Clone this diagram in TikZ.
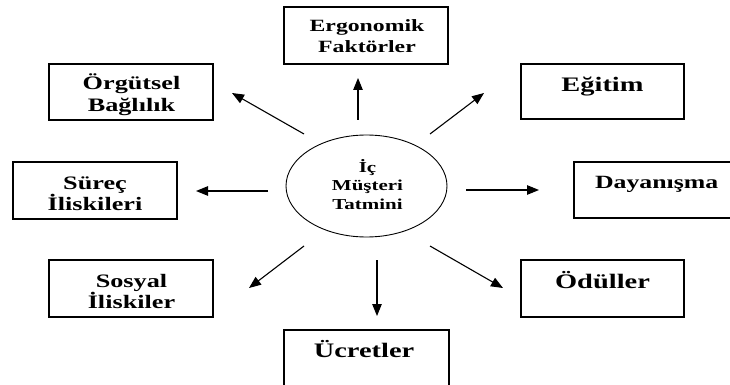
\documentclass[tikz,border=0pt]{standalone}
\usepackage{fontspec}
\newfontfamily\labfont{Liberation Serif}[FakeStretch=1.38]
\usetikzlibrary{arrows.meta,shapes.geometric}
\begin{document}
\begin{tikzpicture}[x=1pt,y=-1pt,
  box/.style={draw=black,line width=1.5pt,rectangle,inner sep=0pt,minimum width=164pt,minimum height=57pt},
  lab/.style={anchor=base,inner sep=0pt,text=black},
  labA/.style={lab,font=\labfont\bfseries\fontsize{19}{21}\selectfont},
  labE/.style={lab,font=\labfont\bfseries\fontsize{17.2}{21}\selectfont},
  labB/.style={lab,font=\labfont\bfseries\fontsize{20.6}{22}\selectfont},
  labD/.style={lab,font=\labfont\bfseries\fontsize{18.7}{21}\selectfont},
  labC/.style={lab,font=\labfont\bfseries\fontsize{15.2}{19}\selectfont},
  arr/.style={line width=1.1pt,-{Triangle[length=12pt,width=9.5pt]}}]
\useasboundingbox (0,0) rectangle (730,385);
\clip (0,0) rectangle (730,385);
\fill[white] (0,0) rectangle (730,385);

% centre ellipse
\node[draw=black,line width=0.9pt,ellipse,minimum width=161pt,minimum height=102pt,inner sep=0pt] (ic) at (366.5,186) {};
\node[labC] (icA) at (367.5,172) {İç};
\node[labC] (icB) at (367.5,190.5) {Müşteri};
\node[labC] (icC) at (367.5,209) {Tatmini};

% boxes
\node[box] (erg) at (366,35.5) {};
\node[labE] (ergA) at (367,32) {Ergonomik};
\node[labE] (ergB) at (367,53) {Faktörler};

\node[box,minimum height=56pt] (org) at (131,92) {};
\node[labA] (orgA) at (131.5,90) {Örgütsel};
\node[labA] (orgB) at (131.5,111) {Bağlılık};

\node[box,minimum width=163pt,minimum height=55pt] (egi) at (602.5,91.5) {};
\node[labB] (egiA) at (602.5,92) {Eğitim};

\node[box] (sur) at (95,190.5) {};
\node[labA] (surA) at (95,189) {Süreç};
\node[labA] (surB) at (95,210) {İliskileri};

\node[box,minimum width=165pt,minimum height=56pt] (day) at (656.5,190) {};
\node[labD] (dayA) at (656.7,188) {Dayanışma};

\node[box] (sos) at (131,288.5) {};
\node[labA] (sosA) at (131.5,287) {Sosyal};
\node[labA] (sosB) at (131.5,308) {İliskiler};

\node[box,minimum width=163pt] (odu) at (602.5,288.5) {};
\node[labB] (oduA) at (602.5,288) {Ödüller};

\node[box,minimum width=165pt] (ucr) at (366.5,358.5) {};
\node[labB] (ucrA) at (364,357) {Ücretler};

% arrow end points
\coordinate (s1) at (304,134);  \coordinate (e1) at (232,93);
\coordinate (s2) at (358,120);  \coordinate (e2) at (358,78);
\coordinate (s3) at (430,134);  \coordinate (e3) at (484,93);
\coordinate (s4) at (268,191);  \coordinate (e4) at (196,191);
\coordinate (s5) at (466,190);  \coordinate (e5) at (539,190);
\coordinate (s6) at (304,246);  \coordinate (e6) at (249,288);
\coordinate (s7) at (377,260);  \coordinate (e7) at (377,316);
\coordinate (s8) at (430,246);  \coordinate (e8) at (503,288);

\draw[arr] (s1) -- (e1);
\draw[arr] (s2) -- (e2);
\draw[arr] (s3) -- (e3);
\draw[arr] (s4) -- (e4);
\draw[arr] (s5) -- (e5);
\draw[arr] (s6) -- (e6);
\draw[arr] (s7) -- (e7);
\draw[arr] (s8) -- (e8);
\end{tikzpicture}
\end{document}
